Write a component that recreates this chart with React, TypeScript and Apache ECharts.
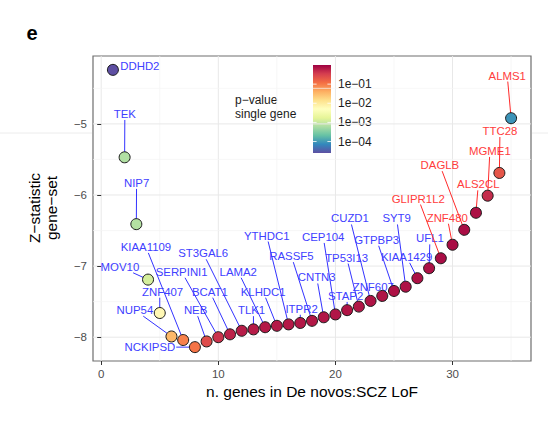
import React, { useEffect, useRef } from 'react';
import * as echarts from 'echarts';

const FONT = "'Liberation Sans', Arial, Helvetica, sans-serif";

const genes = ['DDHD2','TEK','NIP7','MOV10','ZNF407','NUP54','KIAA1109','NCKIPSD','NEB','SERPINI1','BCAT1','ST3GAL6','TLK1','LAMA2','KLHDC1','YTHDC1','ITPR2','RASSF5','CNTN3','CEP104','STAP2','TP53I13','CUZD1','ZNF607','GTPBP3','SYT9','KIAA1429','UFL1','GLIPR1L2','ZNF480','DAGLB','ALS2CL','MGME1','TTC28','ALMS1'];
const nGenes = [1,2,3,4,5,6,7,8,9,10,11,12,13,14,15,16,17,18,19,20,21,22,23,24,25,26,27,28,29,30,31,32,33,34,35];
const zStat = [-4.24,-5.47,-6.41,-7.19,-7.66,-7.99,-8.04,-8.14,-8.06,-8.0,-7.96,-7.91,-7.89,-7.86,-7.84,-7.82,-7.8,-7.77,-7.72,-7.68,-7.62,-7.57,-7.49,-7.42,-7.35,-7.29,-7.17,-7.03,-6.89,-6.7,-6.49,-6.25,-6.01,-5.69,-4.92];
const log10P = [-4.6,-3.17,-3.15,-2.9,-2.2,-1.47,-1.06,-0.97,-0.6,-0.37,-0.25,-0.2,-0.2,-0.18,-0.18,-0.18,-0.17,-0.17,-0.16,-0.16,-0.15,-0.15,-0.14,-0.14,-0.13,-0.13,-0.12,-0.12,-0.09,-0.09,-0.1,-0.12,-0.32,-0.69,-4.05];
const labelX = [3.3,2.02,3.02,1.6,5.24,2.88,3.82,4.16,8.06,6.87,9.28,8.71,12.84,11.7,13.83,14.13,17.11,16.24,18.4,18.96,20.87,20.96,21.24,23.23,23.52,25.23,26.08,28.07,27.07,29.55,28.92,32.2,33.19,34.05,34.67];
const labelY = [-4.19,-4.86,-5.83,-7.01,-7.36,-7.62,-6.73,-8.14,-7.62,-7.08,-7.36,-6.82,-7.62,-7.08,-7.36,-6.57,-7.6,-6.86,-7.16,-6.59,-7.42,-6.88,-6.33,-7.3,-6.63,-6.33,-6.87,-6.61,-6.05,-6.32,-5.58,-5.85,-5.38,-5.1,-4.32];
const redGenes = ['GLIPR1L2','ZNF480','DAGLB','ALS2CL','MGME1','TTC28','ALMS1'];

const xMajor = [0, 10, 20, 30];
const xMinor = [5, 15, 25, 35];
const yMajor = [-8, -7, -6, -5];
const yMinor = [-7.5, -6.5, -5.5, -4.5];

const legendTicks = [-1, -2, -3, -4];
const legendTickLabels = ['1e\u221201', '1e\u221202', '1e\u221203', '1e\u221204'];
const pMin = -4.6;
const pMax = 0;
const spectral = ['#5e4fa2','#3288bd','#66c2a5','#abdda4','#e6f598','#ffffbf','#fee08b','#fdae61','#f46d43','#d53e4f','#9e0142'];

const minus = (v: number) => (v < 0 ? '\u2212' + Math.abs(v) : String(v));

export default function App() {
  const ref = useRef<HTMLDivElement>(null);
  useEffect(() => {
    const el = ref.current!;
    const chart = echarts.init(el, null, { renderer: 'svg' });

    const xr = Math.max(...nGenes) - Math.min(...nGenes);
    const X_MIN = Math.min(...nGenes) - 0.05 * xr;
    const X_MAX = Math.max(...nGenes) + 0.05 * xr;
    const yr = Math.max(...zStat) - Math.min(...zStat);
    const Y_MIN = Math.min(...zStat) - 0.05 * yr;
    const Y_MAX = Math.max(...zStat) + 0.05 * yr;

    const LABEL_FONT = `11.4px ${FONT}`;
    const ctx = document.createElement('canvas').getContext('2d')!;
    ctx.font = LABEL_FONT;
    const widths = genes.map((g) => ctx.measureText(g).width);

    const gridData: number[][] = [
      ...xMajor.map((v) => [v, 0]),
      ...xMinor.map((v) => [v, 1]),
      ...yMajor.map((v) => [v, 2]),
      ...yMinor.map((v) => [v, 3]),
    ];

    const cbX = 313, cbY = 65, cbW = 18, cbH = 88;
    const cbPos = (v: number) => cbY + ((pMax - v) / (pMax - pMin)) * cbH;
    const gradStops = spectral
      .slice()
      .reverse()
      .map((c, i, a) => ({ offset: i / (a.length - 1), color: c }));

    const graphics: any[] = [
      { type: 'line', shape: { x1: 0, y1: 133, x2: 92, y2: 133 }, style: { stroke: '#ececec', lineWidth: 1 }, z: -10 },
      { type: 'line', shape: { x1: 532, y1: 133, x2: 548, y2: 133 }, style: { stroke: '#ececec', lineWidth: 1 }, z: -10 },
      {
        type: 'text', x: 32, y: 33,
        style: { text: 'e', font: `bold 20px ${FONT}`, fill: '#000', align: 'center', verticalAlign: 'middle', textAlign: 'center', textVerticalAlign: 'middle' },
      },
      {
        type: 'text', x: 312, y: 391,
        style: { text: 'n. genes in De novos:SCZ LoF', font: `15.5px ${FONT}`, fill: '#000', align: 'center', verticalAlign: 'middle', textAlign: 'center', textVerticalAlign: 'middle' },
      },
      {
        type: 'text', x: 43, y: 208, rotation: Math.PI / 2,
        style: { text: 'Z\u2212statistic\ngene\u2212set', font: `15.5px ${FONT}`, lineHeight: 17, fill: '#000', align: 'center', verticalAlign: 'middle', textAlign: 'center', textVerticalAlign: 'middle' },
      },
      {
        type: 'text', x: 235, y: 107,
        style: { text: 'p\u2212value\nsingle gene', font: `12px ${FONT}`, lineHeight: 14.5, fill: '#1a1a1a', align: 'left', verticalAlign: 'middle', textAlign: 'left', textVerticalAlign: 'middle' },
      },
      {
        type: 'rect', shape: { x: cbX, y: cbY, width: cbW, height: cbH },
        style: { fill: new echarts.graphic.LinearGradient(0, 0, 0, 1, gradStops) },
      },
      ...legendTicks.flatMap((v, i) => {
        const y = cbPos(v);
        return [
          { type: 'line', shape: { x1: cbX, y1: y, x2: cbX + 3.6, y2: y }, style: { stroke: '#ffffff', lineWidth: 1, opacity: 0.8 } },
          { type: 'line', shape: { x1: cbX + cbW - 3.6, y1: y, x2: cbX + cbW, y2: y }, style: { stroke: '#ffffff', lineWidth: 1, opacity: 0.8 } },
          {
            type: 'text', x: 338, y,
            style: { text: legendTickLabels[i], font: `12px ${FONT}`, fill: '#1a1a1a', align: 'left', verticalAlign: 'middle', textAlign: 'left', textVerticalAlign: 'middle' },
          },
        ];
      }),
    ];

    const option: any = {
      animation: false,
      backgroundColor: '#ffffff',
      textStyle: { fontFamily: FONT },
      grid: { left: 93, right: 17, top: 56, bottom: 63, show: true, borderColor: '#6e6e6e', borderWidth: 1.2, backgroundColor: 'transparent' },
      xAxis: {
        type: 'value', min: X_MIN, max: X_MAX,
        axisLine: { show: false },
        splitLine: { show: false },
        axisTick: { show: true, length: 4, lineStyle: { color: '#333333' }, customValues: xMajor },
        axisLabel: { color: '#4d4d4d', fontSize: 11.5, fontFamily: FONT, margin: 7, customValues: xMajor },
      },
      yAxis: {
        type: 'value', min: Y_MIN, max: Y_MAX,
        axisLine: { show: false },
        splitLine: { show: false },
        axisTick: { show: true, length: 4, lineStyle: { color: '#333333' }, customValues: yMajor },
        axisLabel: { color: '#4d4d4d', fontSize: 11.5, fontFamily: FONT, margin: 6, customValues: yMajor, formatter: (v: number) => minus(v) },
      },
      visualMap: {
        type: 'continuous', show: false, min: pMin, max: pMax, dimension: 2, seriesIndex: 2,
        inRange: { color: spectral },
      },
      series: [
        {
          type: 'custom', name: 'grid', silent: true, z: 0,
          data: gridData,
          renderItem: (params: any, api: any) => {
            const cs = params.coordSys;
            const v = api.value(0);
            const kind = api.value(1);
            const color = kind % 2 === 0 ? '#e8e8e8' : '#f3f3f3';
            const w = kind % 2 === 0 ? 1 : 0.7;
            if (kind < 2) {
              const px = api.coord([v, Y_MIN])[0];
              return { type: 'line', shape: { x1: px, y1: cs.y, x2: px, y2: cs.y + cs.height }, style: { stroke: color, lineWidth: w } };
            }
            const py = api.coord([X_MIN, v])[1];
            return { type: 'line', shape: { x1: cs.x, y1: py, x2: cs.x + cs.width, y2: py }, style: { stroke: color, lineWidth: w } };
          },
        },
        {
          type: 'custom', name: 'labels', silent: true, z: 1, clip: false,
          data: genes.map((g, i) => [nGenes[i], zStat[i], labelX[i], labelY[i]]),
          renderItem: (params: any, api: any) => {
            const i = params.dataIndex;
            const p = api.coord([api.value(0), api.value(1)]);
            const c = api.coord([api.value(2), api.value(3)]);
            const red = redGenes.includes(genes[i]);
            const txtColor = red ? '#ff3c3c' : '#4040ff';
            const lineColor = red ? '#ff2a2a' : '#3333ff';
            const hw = widths[i] / 2 + 1;
            const hh = 6;
            const vx = p[0] - c[0];
            const vy = p[1] - c[1];
            const t = Math.min(vx !== 0 ? hw / Math.abs(vx) : Infinity, vy !== 0 ? hh / Math.abs(vy) : Infinity);
            const children: any[] = [];
            if (t < 1) {
              let qx = c[0] + vx * t;
              let qy = c[1] + vy * t;
              const d = Math.hypot(p[0] - qx, p[1] - qy);
              if (d < 16) {
                qx = Math.min(Math.max(p[0], c[0] - hw), c[0] + hw);
                qy = Math.min(Math.max(p[1], c[1] - hh), c[1] + hh);
              }
              const d2 = Math.hypot(p[0] - qx, p[1] - qy);
              if (d2 > 7.5) {
                children.push({ type: 'line', shape: { x1: qx, y1: qy, x2: p[0], y2: p[1] }, style: { stroke: lineColor, lineWidth: 1 } });
              }
            }
            children.push({
              type: 'text', x: c[0], y: c[1],
              style: { text: genes[i], fill: txtColor, font: LABEL_FONT, align: 'center', verticalAlign: 'middle', textAlign: 'center', textVerticalAlign: 'middle' },
            });
            return { type: 'group', children };
          },
        },
        {
          type: 'scatter', name: 'genes', z: 2,
          symbolSize: 11,
          itemStyle: { borderColor: '#1a1a1a', borderWidth: 1, opacity: 1 },
          data: genes.map((g, i) => ({ name: g, value: [nGenes[i], zStat[i], log10P[i]] })),
        },
      ],
      graphic: graphics,
    };

    chart.setOption(option);
    return () => chart.dispose();
  }, []);

  return <div ref={ref} style={{ position: 'fixed', left: 0, top: 0, width: 548, height: 424, background: '#fff' }} />;
}
